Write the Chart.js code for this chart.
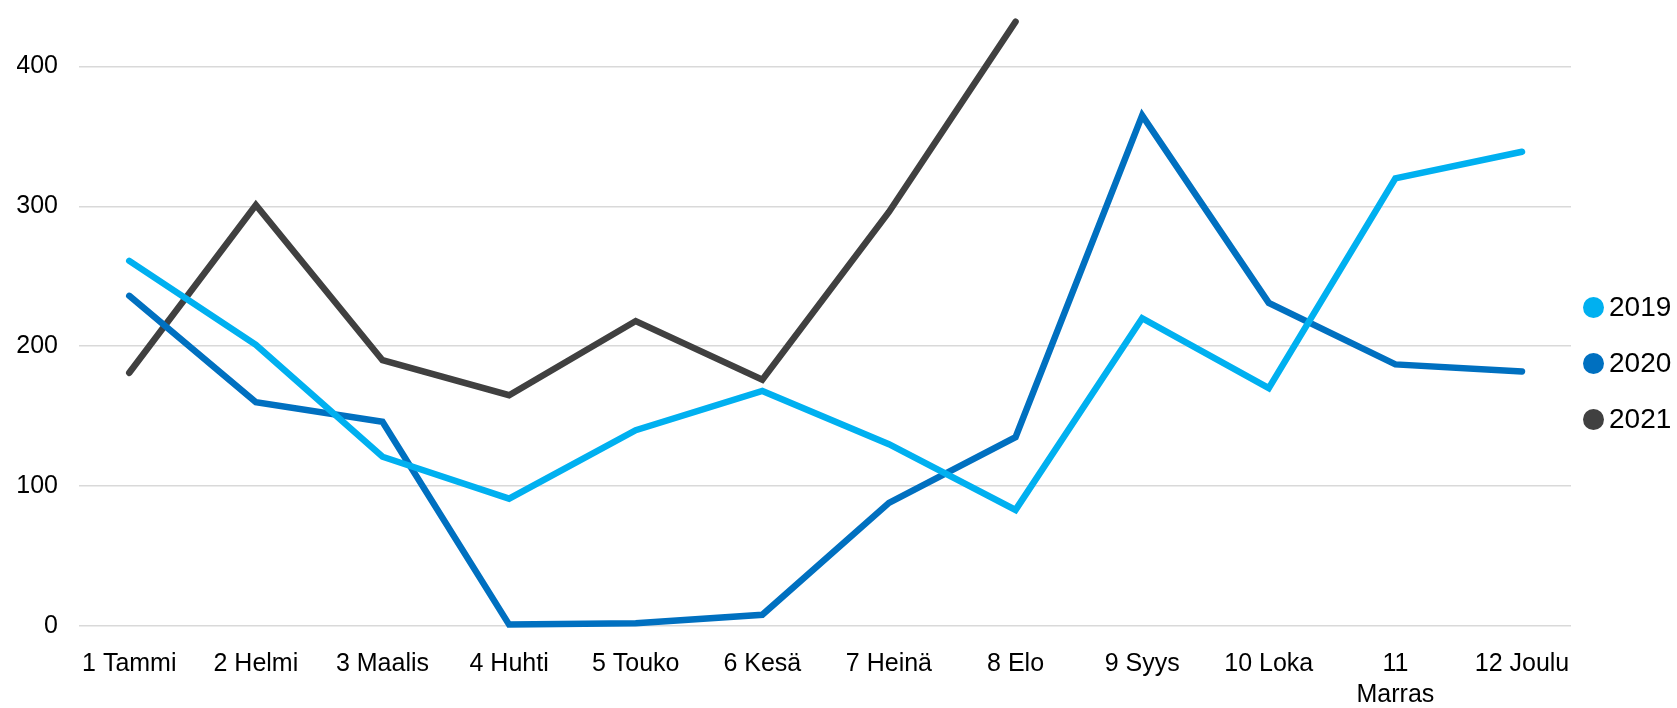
<!DOCTYPE html>
<html>
<head>
<meta charset="utf-8">
<script src="https://cdn.jsdelivr.net/npm/chart.js@4.4.1/dist/chart.umd.min.js"></script>
<style>
    html, body { margin: 0; padding: 0; background: #fff; }
    #wrap { position: relative; width: 1677px; height: 708px; }
    #legend { position: absolute; left: 1583px; top: 279px; font-family: "Liberation Sans", Arial, sans-serif; font-size: 28px; color: #000; }
    .item { display: flex; align-items: center; height: 56px; }
    .dot { width: 21px; height: 21px; border-radius: 50%; margin-right: 5px; }
</style>
</head>
<body>
<div id="wrap">
    <canvas id="myChart"></canvas>
    <div id="legend"></div>
</div>
<script>
const months = ["1 Tammi", "2 Helmi", "3 Maalis", "4 Huhti", "5 Touko", "6 Kesä",
    "7 Heinä", "8 Elo", "9 Syys", "10 Loka", ["11", "Marras"], "12 Joulu"];
const yearNames = ["2019", "2020", "2021"];
const colors = ["#00B0F0", "#0070C0", "#404040"];

const values2019 = [261, 201, 121, 91, 140, 168, 130, 83, 220, 170, 320, 339];
const values2020 = [236, 160, 146, 1, 2, 8, 88, 135, 365, 231, 187, 182];
const values2021 = [181, 301, 190, 165, 218, 176, 296, 432, null, null, null, null];

const yTicks = [0, 100, 200, 300, 400];

const allValues = [values2019, values2020, values2021];

const toPoints = (arr) => arr.map((v, i) => ({ x: i + 1, y: v }));

const datasets = yearNames.map((name, k) => ({
    label: name,
    data: toPoints(allValues[k]),
    borderColor: colors[k],
    backgroundColor: colors[k],
    borderWidth: 6.5,
    borderCapStyle: 'round',
    pointRadius: 0,
    tension: 0,
    clip: false,
}));

const font = { family: "'Liberation Sans', Arial, sans-serif", size: 25 };

new Chart(document.getElementById("myChart").getContext("2d"), {
    type: "line",
    data: { datasets: datasets },
    options: {
        responsive: true,
        maintainAspectRatio: false,
        animation: false,
        layout: { padding: { left: 17, right: 106, top: 0, bottom: 0 } },
        plugins: {
            legend: { display: false },
            tooltip: { enabled: false },
        },
        scales: {
            x: {
                type: "linear",
                min: 0.603,
                max: 12.387,
                afterBuildTicks: (scale) => {
                    scale.ticks = months.map((m, i) => ({ value: i + 1 }));
                },
                afterFit: (scale) => {
                    scale.height = 82;
                    scale.paddingLeft = 0;
                    scale.paddingRight = 0;
                },
                grid: { display: false, drawTicks: false },
                border: { display: false },
                ticks: {
                    font: { ...font, lineHeight: 1.25 },
                    color: "#000",
                    padding: 22,
                    maxRotation: 0,
                    autoSkip: false,
                    callback: (v) => months[v - 1],
                },
            },
            y: {
                min: 0,
                max: 447.5,
                afterBuildTicks: (scale) => {
                    scale.ticks = yTicks.map((v) => ({ value: v }));
                },
                afterFit: (scale) => {
                    scale.width = 62;
                    scale.paddingTop = 0;
                    scale.paddingBottom = 0;
                },
                grid: { color: "#D9D9D9", lineWidth: 1.5, drawTicks: false },
                border: { display: false },
                ticks: {
                    font: font,
                    color: "#000",
                    padding: 21,
                },
            },
        },
    },
});

const legend = document.getElementById("legend");
yearNames.forEach((name, k) => {
    const item = document.createElement("div");
    item.className = "item";
    const dot = document.createElement("span");
    dot.className = "dot";
    dot.style.background = colors[k];
    const label = document.createElement("span");
    label.textContent = name;
    item.appendChild(dot);
    item.appendChild(label);
    legend.appendChild(item);
});
</script>
</body>
</html>
